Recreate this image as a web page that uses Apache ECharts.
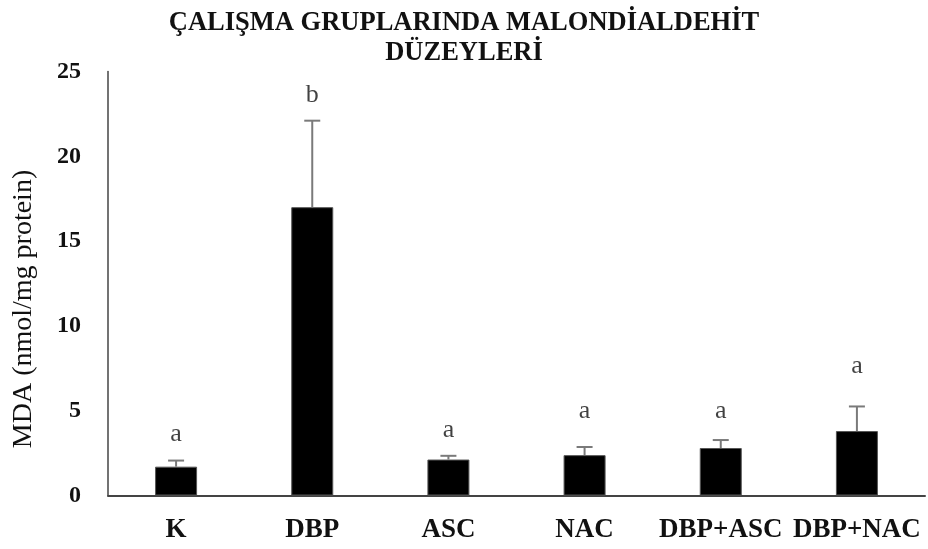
<!DOCTYPE html>
<html>
<head>
<meta charset="utf-8">
<script src="https://cdn.jsdelivr.net/npm/echarts@6/dist/echarts.min.js"></script>
<style>
  html, body { margin: 0; padding: 0; background: #fff; }
  #chart { width: 928px; height: 549px; }
</style>
</head>
<body>
<div id="chart"></div>
<script>
// Study groups and their MDA levels (mean and upper error)
const categories = ['K', 'DBP', 'ASC', 'NAC', 'DBP+ASC', 'DBP+NAC'];
const means = [1.70, 17.0, 2.12, 2.38, 2.80, 3.80];
const errors = [0.36, 5.10, 0.22, 0.48, 0.47, 1.45];
// Significance letters and the level (in axis units) they sit at
const letters = ['a', 'b', 'a', 'a', 'a', 'a'];
const letterY = [3.63, 23.6, 3.86, 5.0, 5.0, 7.64];
const yTicks = { min: 0, max: 25, interval: 5 };

const serif = '"Liberation Serif", "Times New Roman", serif';

const chart = echarts.init(document.getElementById('chart'), null, { renderer: 'canvas' });

const errorData = categories.map((c, i) => [i, means[i], means[i] + errors[i]]);
const letterData = categories.map((c, i) => [i, letterY[i]]);

chart.setOption({
  animation: false,
  backgroundColor: '#ffffff',
  title: {
    text: 'ÇALIŞMA GRUPLARINDA MALONDİALDEHİT\nDÜZEYLERİ',
    left: 'center',
    top: 3,
    textStyle: {
      fontFamily: serif,
      fontWeight: 'bold',
      fontSize: 26.5,
      lineHeight: 30,
      color: '#111'
    }
  },
  grid: { left: 108, right: 3, top: 71.5, bottom: 53.5 },
  xAxis: {
    type: 'category',
    data: categories,
    axisLine: { lineStyle: { color: '#444', width: 2 } },
    axisTick: { show: false },
    axisLabel: {
      margin: 21,
      fontFamily: serif,
      fontWeight: 'bold',
      fontSize: 27,
      color: '#111',
      interval: 0
    }
  },
  yAxis: {
    type: 'value',
    min: yTicks.min,
    max: yTicks.max,
    interval: yTicks.interval,
    splitLine: { show: false },
    axisLine: { show: true, lineStyle: { color: '#444', width: 1.5 } },
    axisTick: { show: false },
    axisLabel: {
      margin: 27,
      fontFamily: serif,
      fontWeight: 'bold',
      fontSize: 24,
      color: '#111'
    }
  },
  graphic: [{
    type: 'text',
    x: 24,
    y: 309,
    rotation: Math.PI / 2,
    style: {
      text: 'MDA (nmol/mg protein)',
      fontFamily: serif,
      fontSize: 28,
      fill: '#111',
      align: 'center',
      verticalAlign: 'middle'
    }
  }],
  series: [
    {
      type: 'bar',
      data: means,
      barWidth: 42,
      itemStyle: { color: '#000', borderColor: '#555', borderWidth: 1 },
      z: 2
    },
    {
      type: 'custom',
      data: errorData,
      z: 3,
      renderItem: function (params, api) {
        const x = api.value(0);
        const base = api.coord([x, api.value(1)]);
        const top = api.coord([x, api.value(2)]);
        const half = 8;
        const style = { stroke: '#7a7a7a', lineWidth: 2 };
        return {
          type: 'group',
          children: [
            { type: 'line', shape: { x1: base[0], y1: base[1], x2: top[0], y2: top[1] }, style: style },
            { type: 'line', shape: { x1: top[0] - half, y1: top[1], x2: top[0] + half, y2: top[1] }, style: style }
          ]
        };
      }
    },
    {
      type: 'scatter',
      data: letterData,
      symbolSize: 0,
      z: 4,
      label: {
        show: true,
        position: 'inside',
        formatter: function (p) { return letters[p.dataIndex]; },
        fontFamily: serif,
        fontSize: 26,
        color: '#111'
      }
    }
  ]
});
</script>
</body>
</html>
